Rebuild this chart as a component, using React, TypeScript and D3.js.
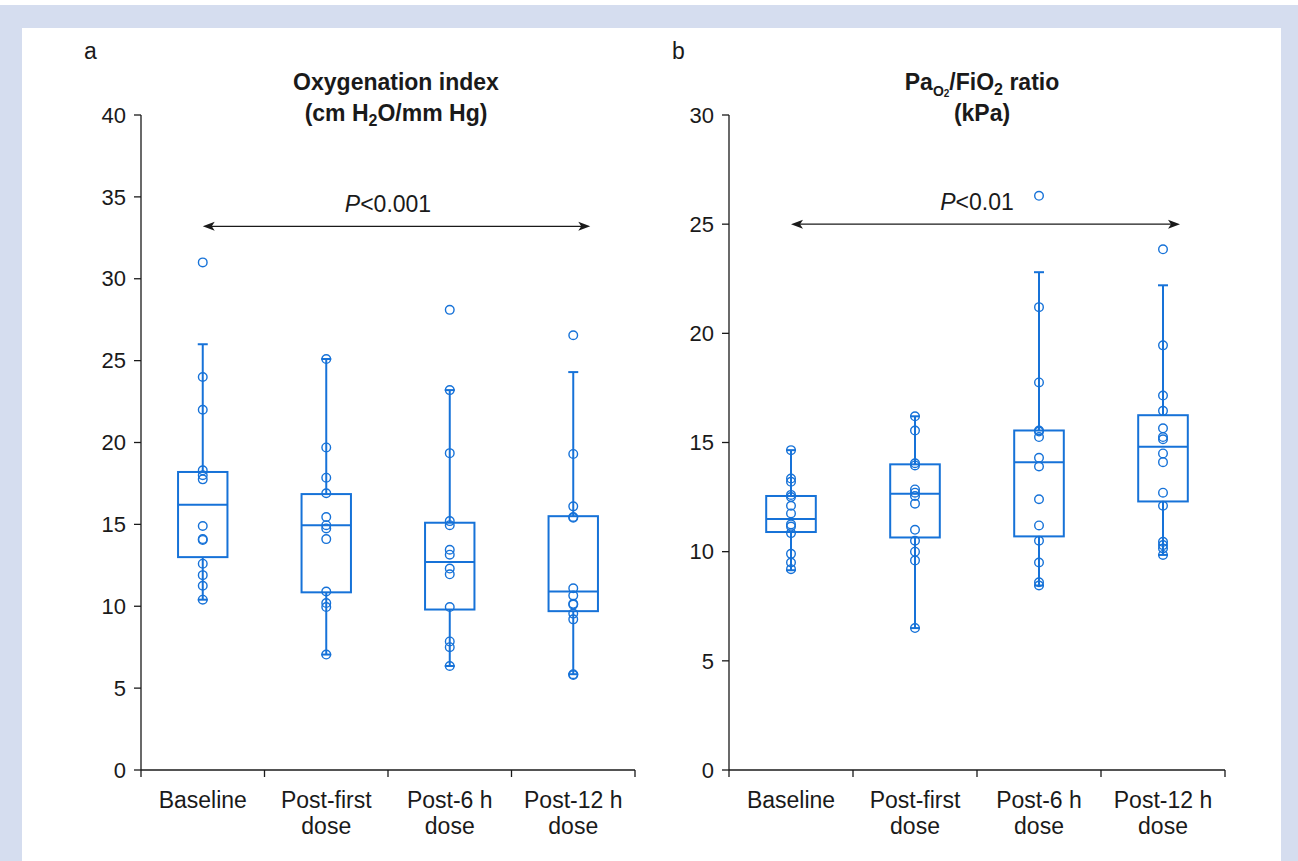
import React from 'react';
import * as d3 from 'd3';

// categories along the x axis (second line is the wrapped part)
const CATEGORIES = ['Baseline', 'Post-first dose', 'Post-6 h dose', 'Post-12 h dose'];
const CATEGORY_LINES = [['Baseline'], ['Post-first', 'dose'], ['Post-6 h', 'dose'], ['Post-12 h', 'dose']];

// panel a: oxygenation index, individual patients
const OI_POINTS = [
  [31.0, 24.0, 22.0, 18.3, 18.0, 17.75, 14.9, 14.1, 14.05, 12.6, 11.9, 11.25, 10.4],
  [25.1, 19.7, 17.85, 16.9, 15.45, 14.95, 14.75, 14.1, 10.9, 10.2, 9.95, 7.05],
  [28.1, 23.2, 19.35, 15.2, 14.95, 13.45, 13.15, 12.3, 11.95, 9.95, 7.85, 7.5, 6.35],
  [26.55, 19.3, 16.1, 15.45, 15.4, 11.1, 10.65, 10.15, 10.1, 9.55, 9.2, 5.85, 5.8],
];
// [whisker low, q1, median, q3, whisker high]
const OI_BOXES = [
  [10.4, 13.0, 16.2, 18.2, 26.0],
  [7.05, 10.85, 14.95, 16.85, 25.1],
  [6.35, 9.8, 12.7, 15.1, 23.2],
  [5.85, 9.7, 10.9, 15.5, 24.3],
];
const OI_TICKS = [0, 5, 10, 15, 20, 25, 30, 35, 40];

// panel b: PaO2/FiO2 ratio (kPa)
const PF_POINTS = [
  [14.65, 13.35, 13.2, 12.6, 12.5, 12.1, 11.75, 11.25, 11.15, 10.85, 9.9, 9.5, 9.2],
  [16.2, 15.55, 14.05, 13.95, 12.85, 12.7, 12.55, 12.2, 11.0, 10.5, 10.0, 9.6, 6.5],
  [26.3, 21.2, 17.75, 15.55, 15.5, 15.25, 14.3, 13.9, 12.4, 11.2, 10.5, 9.5, 8.6, 8.45],
  [23.85, 19.45, 17.15, 16.45, 15.65, 15.25, 15.15, 14.5, 14.1, 12.7, 12.1, 10.45, 10.3, 10.15, 9.85],
];
const PF_BOXES = [
  [9.15, 10.9, 11.5, 12.55, 14.65],
  [6.5, 10.65, 12.65, 14.0, 16.2],
  [8.45, 10.7, 14.1, 15.55, 22.8],
  [9.85, 12.3, 14.8, 16.25, 22.2],
];
const PF_TICKS = [0, 5, 10, 15, 20, 25, 30];

const BLUE = '#1672d8';
const INK = '#1a1a1a';
const FONT = '"Liberation Sans", Arial, sans-serif';
const FS = 23;

interface PanelProps {
  letter: string;
  x0: number;
  x1: number;
  ticks: number[];
  points: number[][];
  boxes: number[][];
  title: React.ReactNode;
  pLabel: string;
  pAt: number;
}

const Panel: React.FC<PanelProps> = ({ letter, x0, x1, ticks, points, boxes, title, pLabel, pAt }) => {
  const top = 115;
  const bottom = 770;
  const x = d3.scaleBand<string>().domain(CATEGORIES).range([x0, x1]).padding(0);
  const y = d3.scaleLinear().domain([0, d3.max(ticks)!]).range([bottom, top]);
  const bw = x.bandwidth();
  const boxW = bw * 0.4;
  const capW = 10;
  const mid = (c: string) => x(c)! + bw / 2;
  const midX = (x0 + x1) / 2;

  // arrow spans first to last category, slightly past the last box
  const ax0 = mid(CATEGORIES[0]);
  const ax1 = mid(CATEGORIES[3]) + 17;
  const ay = y(pAt);

  return (
    <g fontFamily={FONT}>
      <text x={x0 - 57} y={59} fontSize={FS} fill={INK}>{letter}</text>
      {title}
      {/* y axis */}
      <line x1={x0} x2={x0} y1={top} y2={bottom} stroke={INK} strokeWidth={1.3} />
      {ticks.map(t => (
        <g key={t}>
          <line x1={x0 - 7} x2={x0} y1={y(t)} y2={y(t)} stroke={INK} strokeWidth={1.3} />
          <text x={x0 - 15} y={y(t)} dy="0.35em" textAnchor="end" fontSize={22} fill={INK}>{t}</text>
        </g>
      ))}
      {/* x axis */}
      <line x1={x0} x2={x1} y1={bottom} y2={bottom} stroke={INK} strokeWidth={1.3} />
      {[...CATEGORIES.map(c => x(c)!), x1].map((tx, i) => (
        <line key={i} x1={tx} x2={tx} y1={bottom} y2={bottom + 7} stroke={INK} strokeWidth={1.3} />
      ))}
      {CATEGORIES.map((c, i) => (
        <text key={c} x={mid(c)} textAnchor="middle" fontSize={FS} fill={INK}>
          {CATEGORY_LINES[i].map((ln, j) => (
            <tspan key={j} x={mid(c)} y={808 + j * 26}>{ln}</tspan>
          ))}
        </text>
      ))}
      {/* boxes */}
      {CATEGORIES.map((c, i) => {
        const [lo, q1, med, q3, hi] = boxes[i];
        const cx = mid(c);
        return (
          <g key={c} stroke={BLUE} strokeWidth={2} fill="none">
            <line x1={cx} x2={cx} y1={y(q3)} y2={y(hi)} />
            <line x1={cx} x2={cx} y1={y(q1)} y2={y(lo)} />
            <line x1={cx - capW / 2} x2={cx + capW / 2} y1={y(hi)} y2={y(hi)} />
            <line x1={cx - capW / 2} x2={cx + capW / 2} y1={y(lo)} y2={y(lo)} />
            <rect x={cx - boxW / 2} y={y(q3)} width={boxW} height={y(q1) - y(q3)} />
            <line x1={cx - boxW / 2} x2={cx + boxW / 2} y1={y(med)} y2={y(med)} />
            {points[i].map((v, k) => (
              <circle key={k} cx={cx} cy={y(v)} r={4.3} strokeWidth={1.4} fill="none" />
            ))}
          </g>
        );
      })}
      {/* significance arrow */}
      <line x1={ax0 + 8} x2={ax1 - 8} y1={ay} y2={ay} stroke={INK} strokeWidth={1.3} />
      <path d={`M${ax0},${ay} l12,-4.5 l-3,4.5 l3,4.5 z`} fill={INK} />
      <path d={`M${ax1},${ay} l-12,-4.5 l3,4.5 l-3,4.5 z`} fill={INK} />
      <text x={midX} y={ay - 14} textAnchor="middle" fontSize={FS} fill={INK}>
        <tspan fontStyle="italic">P</tspan>{pLabel}
      </text>
    </g>
  );
};

export default function App() {
  const titleA = (
    <g fontFamily={FONT} fontWeight="bold" fontSize={FS} fill={INK} textAnchor="middle">
      <text x={396} y={90}>Oxygenation index</text>
      <text x={396} y={121}>
        (cm H<tspan fontSize={16} dy={5}>2</tspan><tspan dy={-5}>O/mm Hg)</tspan>
      </text>
    </g>
  );
  const titleB = (
    <g fontFamily={FONT} fontWeight="bold" fontSize={FS} fill={INK} textAnchor="middle">
      <text x={982} y={90}>
        Pa<tspan fontSize={14} dy={6}>O</tspan><tspan fontSize={10} dy={1}>2</tspan>
        <tspan dy={-7}>/FiO</tspan><tspan fontSize={16} dy={5}>2</tspan>
        <tspan dy={-5}> ratio</tspan>
      </text>
      <text x={982} y={121}>(kPa)</text>
    </g>
  );

  return (
    <div style={{ position: 'absolute', left: 0, top: 0 }}>
      <svg width={1298} height={861} style={{ display: 'block' }}>
        <rect x={0} y={0} width={1298} height={861} fill="#ffffff" />
        <rect x={0} y={5} width={1298} height={856} fill="#d5ddef" />
        <rect x={22} y={28} width={1259} height={833} fill="#ffffff" />
        <Panel letter="a" x0={141} x1={635} ticks={OI_TICKS} points={OI_POINTS} boxes={OI_BOXES}
          title={titleA} pLabel="<0.001" pAt={33.2} />
        <Panel letter="b" x0={729} x1={1225} ticks={PF_TICKS} points={PF_POINTS} boxes={PF_BOXES}
          title={titleB} pLabel="<0.01" pAt={25.0} />
      </svg>
    </div>
  );
}
